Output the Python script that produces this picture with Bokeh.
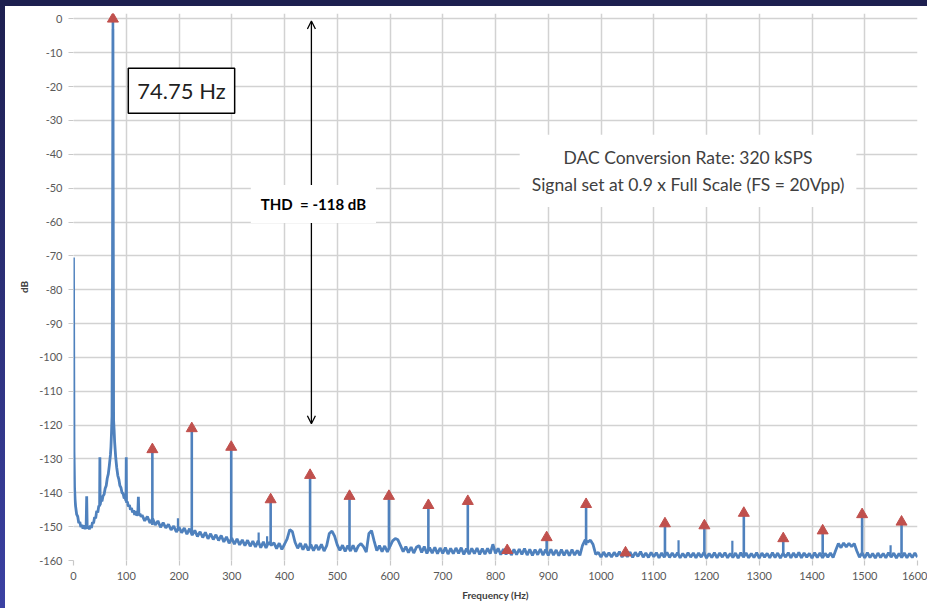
from bokeh.plotting import figure
from bokeh.models import Range1d, FixedTicker, Label, Arrow, OpenHead
from bokeh.embed import file_html
from bokeh.resources import INLINE

# ---------------- data ----------------
x_ticks = [0, 100, 200, 300, 400, 500, 600, 700, 800, 900, 1000, 1100, 1200, 1300, 1400, 1500, 1600]
x_tick_labels = ["0", "100", "200", "300", "400", "500", "600", "700", "800", "900", "1000",
                 "1100", "1200", "1300", "1400", "1500", "1600"]
y_ticks = [0, -10, -20, -30, -40, -50, -60, -70, -80, -90, -100, -110, -120, -130, -140, -150, -160]
y_tick_labels = ["0", "-10", "-20", "-30", "-40", "-50", "-60", "-70", "-80", "-90", "-100",
                 "-110", "-120", "-130", "-140", "-150", "-160"]

# low-frequency part of the spectrum (0 - 128 Hz)
low_hz = [0, 1, 2, 3, 4, 6, 8, 10, 12, 14, 16, 18, 20, 22, 24,
          25, 26, 28, 30, 32, 34, 36, 38, 40, 42,
          44, 46, 48, 49.5, 50, 50.5, 52, 54, 56, 58,
          60, 62, 64, 66, 68, 70, 71, 72, 73, 74,
          74.75, 75.5, 76, 77, 78, 80, 82, 84, 86, 88,
          90, 92, 94, 96, 98, 99.5, 100, 100.5, 102, 104,
          106, 108, 110, 112, 114, 116, 118, 120, 122, 123,
          124, 126, 128]
low_db = [-70.5, -128, -138.5, -142, -144, -146.4, -147.0, -148.9, -148.6, -150.1, -149.5, -150.6, -149.6, -150.7, -149.8,
          -141, -150.6, -149.9, -150.8, -149.7, -150.4, -148.7, -149.0, -147.2, -147.5,
          -145.4, -145.8, -143.8, -144.0, -129.5, -143.6, -142.2, -142.5, -140.9, -140.5,
          -138.7, -137.9, -135.7, -134.4, -131.8, -128.8, -126.5, -122.5, -117.5, -70,
          -3, -70, -118.5, -121.5, -125.0, -129.5, -132.6, -134.9, -136.0, -137.9,
          -138.5, -140.0, -140.2, -141.6, -141.5, -142.4, -129.5, -142.9, -142.6, -144.0,
          -143.6, -145.0, -144.5, -145.8, -145.2, -146.5, -145.4, -146.8, -145.7, -141.2,
          -146.7, -146.2, -147.1]

# noise floor, 130 Hz to 1600 Hz in 5 Hz steps
floor_start_hz = 130
floor_step_hz = 5
floor_db = [
    -146.6, -148.3, -147.0, -148.9, -147.6, -149.5, -148.3, -150.2, -148.8, -150.4,
    -149.3, -151.0, -149.8, -151.6, -150.1, -151.8, -150.4, -152.2, -150.6, -152.5,
    -151.1, -152.9, -151.5, -153.2, -151.7, -153.6, -152.1, -153.8, -152.4, -154.1,
    -152.6, -154.5, -153.0, -154.9, -153.4, -155.2, -153.6, -155.4, -153.9, -155.6,
    -154.0, -155.8, -154.3, -156.0, -154.2, -156.2, -154.5, -156.3, -154.6, -155.5,
    -154.8, -156.5, -154.9, -156.7, -155.2, -153.6, -150.9, -151.5, -154.6, -156.4,
    -154.9, -156.8, -155.1, -157.0, -155.3, -157.1, -155.4, -156.9, -155.2, -157.2,
    -155.6, -152.0, -151.3, -152.8, -155.4, -157.0, -155.5, -157.3, -155.6, -157.2,
    -155.5, -157.4, -155.7, -155.0, -156.0, -157.5, -152.0, -151.2, -154.3, -157.1,
    -155.6, -157.4, -155.7, -157.5, -155.8, -154.2, -153.5, -153.9, -155.6, -157.4,
    -155.9, -157.7, -156.0, -157.8, -156.1, -155.6, -157.6, -155.9, -157.9, -156.2,
    -157.8, -156.1, -158.0, -156.3, -157.9, -156.2, -158.1, -156.4, -158.0, -156.3,
    -157.9, -156.2, -158.2, -156.5, -158.1, -156.4, -158.0, -156.3, -158.2, -156.5,
    -158.1, -156.4, -158.0, -155.2, -157.9, -156.4, -158.3, -156.6, -158.2, -156.5,
    -158.4, -156.7, -158.3, -156.6, -158.2, -156.5, -158.4, -156.7, -158.5, -156.8,
    -158.3, -156.6, -158.4, -156.8, -158.5, -156.7, -158.4, -156.9, -158.6, -156.8,
    -158.5, -156.9, -158.6, -156.8, -158.4, -157.0, -158.5, -155.5, -153.9, -154.6,
    -154.0, -155.3, -158.2, -157.6, -159.0, -157.5, -158.9, -157.7, -159.0, -157.6,
    -158.8, -157.4, -159.0, -157.7, -158.9, -157.5, -159.1, -157.6, -158.8, -157.4,
    -159.0, -157.8, -159.1, -157.6, -158.9, -157.7, -159.2, -157.8, -159.0, -157.6,
    -159.1, -157.8, -159.0, -157.7, -159.2, -157.9, -159.1, -157.7, -159.0, -157.8,
    -159.2, -157.8, -159.0, -157.6, -159.3, -157.9, -159.1, -157.7, -159.2, -157.8,
    -159.0, -157.7, -159.2, -157.9, -159.1, -157.8, -159.3, -157.7, -159.0, -157.8,
    -159.2, -157.9, -159.1, -157.7, -159.3, -157.8, -159.0, -157.9, -159.2, -157.7,
    -159.1, -157.8, -159.3, -157.9, -159.0, -157.7, -159.2, -157.8, -159.1, -157.6,
    -159.2, -157.8, -159.0, -157.9, -159.3, -157.7, -159.1, -157.8, -159.2, -157.9,
    -159.0, -157.8, -159.1, -157.0, -155.0, -156.2, -154.8, -156.0, -154.9, -155.9,
    -155.0, -157.2, -159.0, -157.8, -159.2, -157.7, -159.1, -157.9, -159.3, -157.8,
    -159.1, -157.9, -159.2, -157.7, -159.0, -157.8, -159.3, -157.9, -159.1, -157.8,
    -159.2, -157.9, -159.1, -157.8, -159.0]

# isolated non-harmonic spurs
spur_hz = [198, 351, 367, 1147, 1249, 1549]
spur_top_db = [-147.5, -151.7, -152.8, -154.0, -154.2, -155.5]
spur_base_db = [-151.3, -155.2, -155.3, -158.2, -158.3, -158.2]

# harmonics of the 74.75 Hz tone (markers)
harm_hz = [74.75, 149.5, 224.25, 299, 373.75, 448.5, 523.25, 598, 672.75, 747.5, 822.25,
           897, 971.75, 1046.5, 1121.25, 1196, 1270.75, 1345.5, 1420.25, 1495, 1569.75]
harm_db = [0, -127.2, -121.0, -126.5, -142.0, -134.8, -141.0, -141.0, -143.7, -142.5, -157.0,
           -153.2, -143.4, -157.7, -149.1, -149.7, -146.0, -153.5, -151.2, -146.4, -148.6]
harm_base_db = [-3, -149.5, -151.8, -154.2, -155.0, -156.0, -156.3, -156.5, -157.0, -157.2, -157.3,
                -157.5, -155.5, -158.0, -158.2, -158.2, -158.3, -158.3, -158.3, -158.3, -158.3]

floor_hz = [floor_start_hz + i * floor_step_hz for i in range(len(floor_db))]
trace_hz = low_hz + floor_hz
trace_db = low_db + floor_db

# ---------------- figure ----------------
FONT = "Lato"
BLUE = "#4f81bd"
RED = "#c0504d"

p = figure(width=927, height=608, output_backend="svg", toolbar_location=None,
           x_range=Range1d(0, 1600), y_range=Range1d(-160, 1.6),
           min_border_left=73, min_border_right=10, min_border_top=13, min_border_bottom=48)
p.outline_line_color = None
p.background_fill_color = "white"
p.border_fill_color = None

p.xaxis.ticker = FixedTicker(ticks=x_ticks)
p.yaxis.ticker = FixedTicker(ticks=y_ticks)
p.xaxis.major_label_overrides = dict(zip(x_ticks, x_tick_labels))
p.yaxis.major_label_overrides = dict(zip(y_ticks, y_tick_labels))
for ax in (p.xaxis[0], p.yaxis[0]):
    ax.axis_line_color = None
    ax.major_tick_line_color = "#c8c8c8"
    ax.major_tick_line_width = 1.2
    ax.major_tick_out = 5
    ax.major_tick_in = 0
    ax.minor_tick_out = 0
    ax.minor_tick_in = 0
    ax.major_label_text_font = FONT
    ax.major_label_text_font_size = "11px"
    ax.major_label_text_color = "#595959"
    ax.axis_label_text_font = FONT
    ax.axis_label_text_font_size = "10px"
    ax.axis_label_text_font_style = "bold"
    ax.axis_label_text_color = "#404040"
p.xaxis.major_label_standoff = 6
p.yaxis.major_label_standoff = 6
p.xaxis.axis_label = "Frequency (Hz)"
p.xaxis.axis_label_standoff = 6
p.yaxis.axis_label = "dB"
p.yaxis.axis_label_standoff = 6

for g in (p.xgrid[0], p.ygrid[0]):
    g.grid_line_color = "#d2d2d2"
    g.grid_line_width = 1.5

# spectrum trace
p.line(trace_hz, trace_db, line_color=BLUE, line_width=2.8, line_join="bevel")
p.segment(x0=spur_hz, y0=spur_base_db, x1=spur_hz, y1=spur_top_db, line_color=BLUE, line_width=2.2)
p.segment(x0=harm_hz, y0=harm_base_db, x1=harm_hz, y1=harm_db, line_color=BLUE, line_width=2.6)
p.scatter(harm_hz, harm_db, marker="triangle", size=11, fill_color=RED, line_color=RED)

# THD arrow
p.add_layout(Arrow(x_start=451, y_start=-119.6, x_end=451, y_end=-0.6,
                   line_color="black", line_width=1.3,
                   start=OpenHead(size=8, line_color="black", line_width=1.3),
                   end=OpenHead(size=8, line_color="black", line_width=1.3)))

def box(x, y, text, size, color, bold=False, border=None, pad=10, shadow=0.2, lh=1.2):
    if shadow:
        p.add_layout(Label(x=x, y=y, text=text, text_align="center", text_baseline="middle",
                           text_font=FONT, text_font_size=size, text_line_height=lh,
                           text_font_style="bold" if bold else "normal",
                           text_alpha=0, background_fill_color="#000000",
                           background_fill_alpha=shadow, padding=pad,
                           x_offset=3, y_offset=-3))
    p.add_layout(Label(x=x, y=y, text=text, text_align="center", text_baseline="middle",
                       text_font=FONT, text_font_size=size, text_line_height=lh,
                       text_font_style="bold" if bold else "normal",
                       text_color=color, background_fill_color="white",
                       border_line_color=border, border_line_width=1.5, padding=pad))

box(204.7, -21.2, "74.75 Hz", "22px", "#1f1f1f", border="black", pad=9, shadow=0.15)
box(454.8, -54.7, "THD\u00a0 = -118 dB", "15px", "#000000", bold=True, pad=10, shadow=0.18)
box(1165, -44.9, "DAC Conversion Rate: 320 kSPS\nSignal set at 0.9 x Full Scale (FS = 20Vpp)",
    "17.5px", "#404040", pad=12, shadow=0.18, lh=1.3)

html = file_html(p, INLINE)
style = ("<style>html{background:"
         "linear-gradient(#1d1f4f,#1d1f4f) 0 0/100% 6px no-repeat,"
         "linear-gradient(#1d1f4f,#3b41a3) 0 0/5px 100% no-repeat,#ffffff;}</style>")
html = html.replace("</head>", style + "</head>", 1)
open("out.html", "w").write(html)
